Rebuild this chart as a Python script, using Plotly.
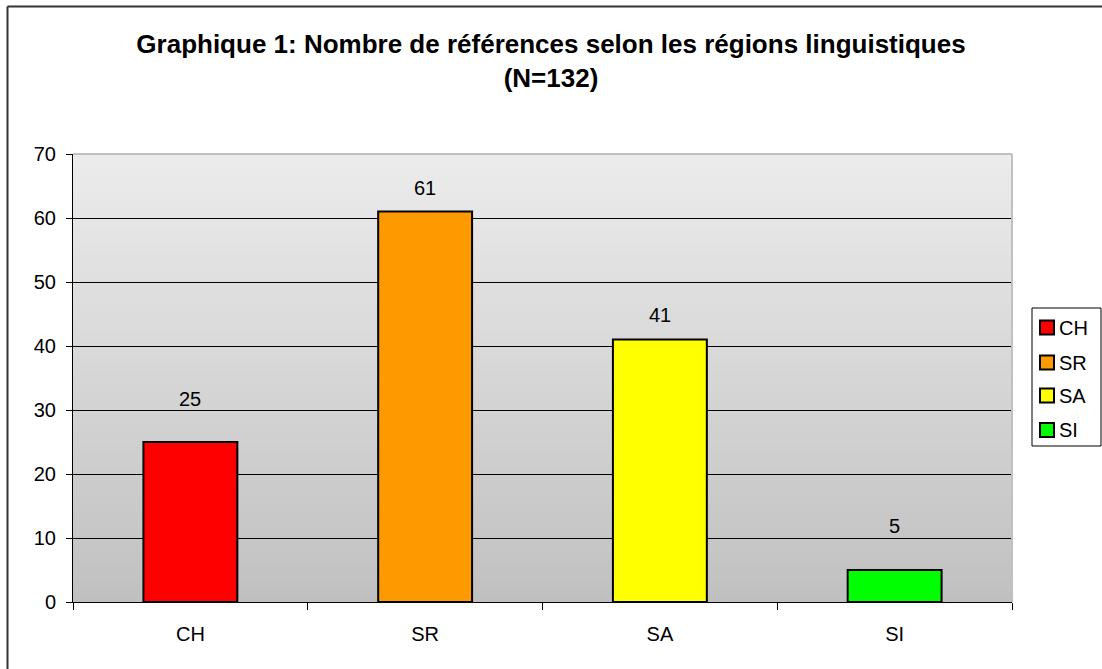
import plotly.graph_objects as go

# ---- data ----
categories = ["CH", "SR", "SA", "SI"]
values = [25, 61, 41, 5]
bar_colors = ["#ff0000", "#ff9900", "#ffff00", "#00ff00"]
label_shift = [43, 24, 25, 44]  # px above bar top (styling)

title_text = "<b>Graphique 1: Nombre de références selon les régions linguistiques<br>(N=132)</b>"

W, H = 1102, 669
L, R, T, B = 73, 90, 154, 67
pw = W - L - R
ph = H - T - B


def px_x(px):
    return (px - L) / pw


def px_y(py):
    return (T + ph - py) / ph


FONT = "Liberation Sans, Arial"

fig = go.Figure()
for cat, val, col in zip(categories, values, bar_colors):
    fig.add_trace(go.Bar(
        x=[cat], y=[val], name=cat,
        marker=dict(color=col, line=dict(color="black", width=2)),
        width=0.4, hoverinfo="skip", showlegend=False,
    ))

for i, (cat, val) in enumerate(zip(categories, values)):
    fig.add_annotation(x=cat, y=val, text=str(val), showarrow=False,
                       yanchor="middle", yshift=label_shift[i],
                       font=dict(family=FONT, size=20, color="black"))

# gradient background bands
n = 60
top = (0xEC, 0xEC, 0xEC)
bot = (0xC0, 0xC0, 0xC0)
shapes = []
for k in range(n):
    t = (k + 0.5) / n
    c = tuple(round(bot[j] + (top[j] - bot[j]) * t) for j in range(3))
    shapes.append(dict(type="rect", xref="paper", yref="paper",
                       x0=0, x1=1, y0=k / n, y1=(k + 1) / n + 0.002,
                       fillcolor="rgb(%d,%d,%d)" % c, line=dict(width=0),
                       layer="below"))
# plot area gray border top/right
shapes.append(dict(type="line", xref="paper", yref="paper", x0=0, x1=1, y0=1, y1=1,
                   line=dict(color="#c0c0c0", width=2), layer="above"))
shapes.append(dict(type="line", xref="paper", yref="paper", x0=1, x1=1, y0=0, y1=1,
                   line=dict(color="#c0c0c0", width=2), layer="above"))
# outer chart border (left and top)
bx = px_x(7.5)
by = px_y(6.5)
shapes.append(dict(type="line", xref="paper", yref="paper", x0=bx, x1=bx,
                   y0=-2, y1=by, line=dict(color="#333333", width=2)))
shapes.append(dict(type="line", xref="paper", yref="paper", x0=bx, x1=3,
                   y0=by, y1=by, line=dict(color="#333333", width=2)))

# legend (drawn box)
shapes.append(dict(type="rect", xref="paper", yref="paper",
                   x0=px_x(1032), x1=px_x(1101), y0=px_y(446), y1=px_y(308),
                   fillcolor="white", line=dict(color="black", width=1)))
leg_centers = [327.5, 362.5, 395.5, 430]
for cat, col, cy in zip(categories, bar_colors, leg_centers):
    shapes.append(dict(type="rect", xref="paper", yref="paper",
                       x0=px_x(1040), x1=px_x(1054), y0=px_y(cy + 7), y1=px_y(cy - 7),
                       fillcolor=col, line=dict(color="black", width=2)))
    fig.add_annotation(xref="paper", yref="paper", x=px_x(1057), y=px_y(cy),
                       xanchor="left", yanchor="middle", text=cat, showarrow=False,
                       font=dict(family=FONT, size=20, color="black"))

fig.update_layout(
    width=W, height=H,
    margin=dict(l=L, r=R, t=T, b=B, autoexpand=False),
    paper_bgcolor="white", plot_bgcolor="rgba(0,0,0,0)",
    barmode="overlay",
    title=dict(text=title_text, x=0.5, xref="container", xanchor="center",
               y=1 - 53 / H, yref="container", yanchor="top",
               font=dict(family=FONT, size=26, color="black")),
    font=dict(family=FONT, size=20, color="black"),
    shapes=shapes,
    showlegend=False,
)
fig.update_xaxes(type="category", range=[-0.5, 3.5], showline=True, linecolor="black",
                 linewidth=1, ticks="outside", tickson="boundaries", ticklen=7,
                 tickcolor="black", showgrid=False, ticklabelstandoff=14,
                 tickfont=dict(size=20))
fig.update_yaxes(range=[0, 70], dtick=10, showline=True, linecolor="black", linewidth=1,
                 ticks="outside", ticklen=6, tickcolor="black", showgrid=True,
                 gridcolor="black", gridwidth=1, zeroline=False, ticklabelstandoff=6,
                 tickfont=dict(size=20))

fig.write_html("out.html", config={"displayModeBar": False},
               post_script="document.body.style.margin='0';document.body.style.overflow='hidden';")
